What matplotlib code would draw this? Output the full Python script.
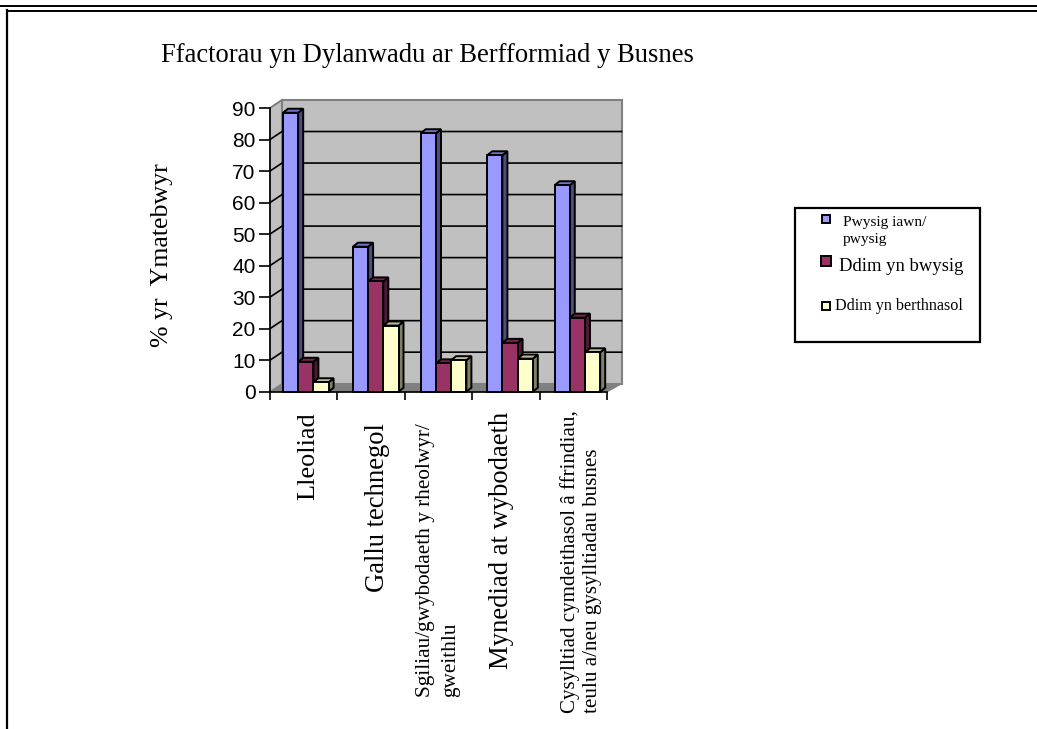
#!/usr/bin/env python3
"""Welsh survey chart: fake-3D clustered columns, drawn by hand on a 2D axes."""
import matplotlib
matplotlib.use("Agg")
import matplotlib.pyplot as plt
from matplotlib.patches import Polygon, Rectangle

categories = ["Lleoliad", "Gallu technegol",
              "Sgiliau/gwybodaeth y rheolwyr/\ngweithlu",
              "Mynediad at wybodaeth",
              "Cysylltiad cymdeithasol â ffrindiau,\nteulu a/neu gysylltiadau busnes"]
pwysig = [88.5, 46, 82, 75, 65.5]
ddim_bwysig = [9.5, 35, 9, 15.5, 23.5]
ddim_berthnasol = [3, 21, 10, 10.5, 12.5]
y_ticks = [0, 10, 20, 30, 40, 50, 60, 70, 80, 90]

SERIF = "Liberation Serif"
SANS = "Liberation Sans"
W, H = 1037, 729
X0, X1, Y0, Y1 = 270, 607, 391.7, 108   # front plane of the plot, in pixels

# face, side, top colours per series
colors = [("#9999FF", "#4D4D80", "#7373BF"),
          ("#993366", "#4D1A33", "#732650"),
          ("#FFFFCC", "#808066", "#BFBF99")]

fig = plt.figure(figsize=(W / 100, H / 100), dpi=100)
page = fig.add_axes([0, 0, 1, 1], zorder=3)
page.set_xlim(0, W)
page.set_ylim(H, 0)
page.axis("off")
page.patch.set_alpha(0)

ax = fig.add_axes([X0 / W, 1 - Y0 / H, (X1 - X0) / W, (Y0 - Y1) / H], zorder=2)
ax.set_xlim(0, 5)
ax.set_ylim(0, 90)
ax.patch.set_alpha(0)
for s in ax.spines.values():
    s.set_visible(False)

px = 5 / (X1 - X0)             # one pixel in x data units
py = 90 / (Y0 - Y1)            # one pixel in y data units
wall_dx, wall_dy = 12 * px, 8 * py
wall_w = 5 + 2.5 * px
bar_dx, bar_dy = 5 * px, 4 * py
bar_w = 15.2 * px
cluster_off = [13, 15.5, 16, 15, 15]   # pixels from the tick, the clusters are not evenly placed

# walls and floor
ax.add_patch(Polygon([(5, 0), (wall_w + wall_dx, wall_dy), (wall_dx, wall_dy), (0, 0)],
                     fc="#808080", ec="#808080", lw=1, clip_on=False, zorder=1))
ax.add_patch(Polygon([(0, 0), (wall_dx, wall_dy), (wall_dx, 90 + wall_dy), (0, 90)],
                     fc="#C0C0C0", ec="#808080", lw=1, clip_on=False, zorder=1))
ax.add_patch(Rectangle((wall_dx, wall_dy), wall_w, 90, fc="#C0C0C0", ec="#808080", lw=1.5,
                       clip_on=False, zorder=1))
for v in y_ticks[1:-1]:
    ax.plot([0, wall_dx, wall_w + wall_dx], [v, v + wall_dy, v + wall_dy], color="black",
            lw=1.2, clip_on=False, zorder=2)
ax.plot([0, wall_dx], [90, 90 + wall_dy], color="#808080", lw=1.3, clip_on=False, zorder=2)

# columns
for i in range(len(categories)):
    for j, vals in enumerate([pwysig, ddim_bwysig, ddim_berthnasol]):
        face, side, top = colors[j]
        x = i + cluster_off[i] * px + j * bar_w
        v = vals[i]
        ax.add_patch(Polygon([(x + bar_w, 0), (x + bar_w + bar_dx, bar_dy),
                              (x + bar_w + bar_dx, v + bar_dy), (x + bar_w, v)],
                             fc=side, ec="black", lw=1.4, clip_on=False, zorder=3))
        ax.add_patch(Polygon([(x, v), (x + bar_dx, v + bar_dy),
                              (x + bar_w + bar_dx, v + bar_dy), (x + bar_w, v)],
                             fc=top, ec="black", lw=1.4, clip_on=False, zorder=3))
        ax.bar(x, v, bar_w, align="edge", color=face, edgecolor="black", lw=1.4,
               clip_on=False, zorder=3)

# axes
for side in ("left", "bottom"):
    ax.spines[side].set_visible(True)
    ax.spines[side].set_linewidth(1.2)
    ax.spines[side].set_zorder(4)
ax.set_yticks(y_ticks)
ax.set_xticks(range(6))
ax.set_xticklabels([])
ax.tick_params(axis="y", length=8, width=1.2, pad=2.5, labelsize=15)
ax.tick_params(axis="x", length=6, width=1.2)
for t in ax.get_yticklabels():
    t.set_fontfamily(SANS)

# page frame
page.plot([0, W], [6, 6], color="black", lw=1.4)
page.plot([7, W], [10.5, 10.5], color="black", lw=1.4)
page.plot([7, 7], [10, H], color="black", lw=1.6)

# titles
page.text(161, 55, "Ffactorau yn Dylanwadu ar Berfformiad y Busnes", family=SERIF,
          fontsize=19.2, va="center", ha="left")
page.text(162, 255, "% yr  Ymatebwyr", family=SERIF, fontsize=18.6, rotation=90,
          va="center", ha="center")

# category labels, top-aligned under the axis with their own sizes
label_x = [308, 377, 438, 502, 581]
label_y = [412, 423, 423, 412, 410]
label_size = [18.9, 19.2, 15.3, 19.2, 15.1]
label_gap = [1.25, 1.25, 1.4, 1.25, 1.25]
for name, lx, ly, fs, gap in zip(categories, label_x, label_y, label_size, label_gap):
    page.text(lx, ly, name, family=SERIF, fontsize=fs, rotation=90, va="top", ha="center",
              ma="left", linespacing=gap)

# legend
page.add_patch(Rectangle((795, 208), 185, 134, fc="white", ec="black", lw=1.6))
swatches = [(826, 219, 8, colors[0][0]), (826, 261, 10, colors[1][0]), (826, 306, 8, colors[2][0])]
for sx, sy, sz, c in swatches:
    page.add_patch(Rectangle((sx - sz / 2, sy - sz / 2), sz, sz, fc=c, ec="black", lw=1.4))
page.text(843, 231, "Pwysig iawn/\npwysig", family=SERIF, fontsize=11.1, va="center",
          ha="left", linespacing=1.45)
page.text(839, 266, "Ddim yn bwysig", family=SERIF, fontsize=13.4, va="center", ha="left")
page.text(835, 306, "Ddim yn berthnasol", family=SERIF, fontsize=11.6, va="center", ha="left")

fig.savefig("out.png", dpi=100)
